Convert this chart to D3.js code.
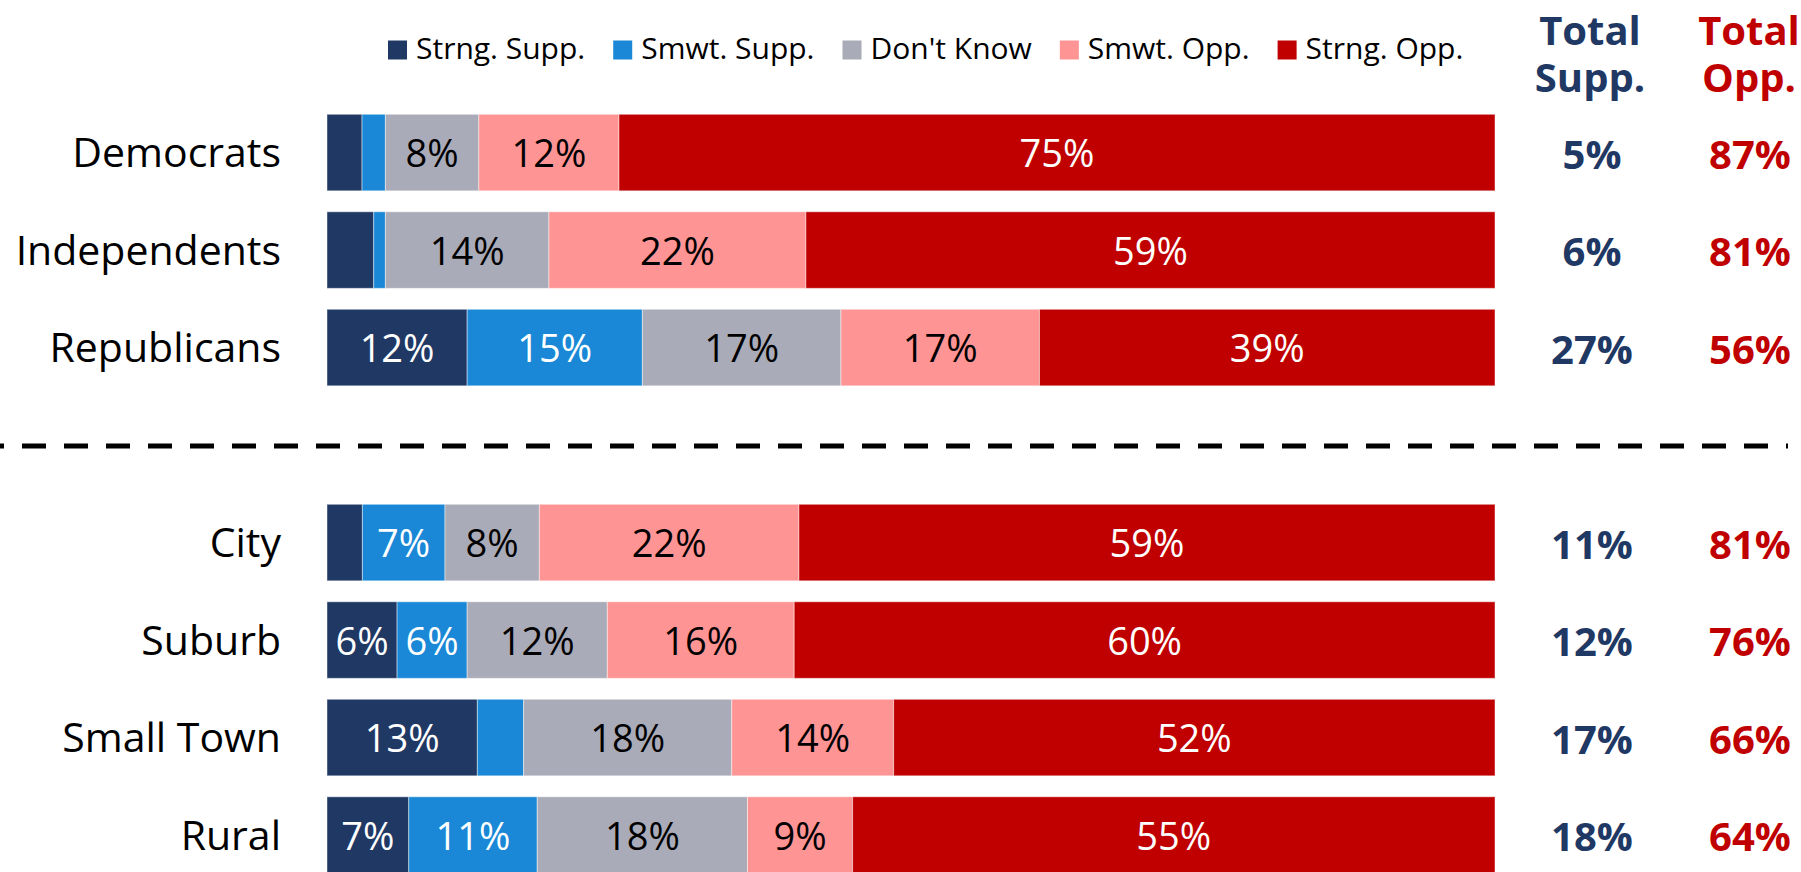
<!DOCTYPE html>
<html>
<head>
<meta charset="utf-8">
<script src="https://cdn.jsdelivr.net/npm/d3@7"></script>
<style>
  html, body { margin: 0; padding: 0; background: #fff; }
  svg { display: block; font-family: "Open Sans", sans-serif; }
</style>
</head>
<body>
<svg></svg>
<script>
var w = 1801, h = 872;

// data
var groups = ["Democrats", "Independents", "Republicans", "City", "Suburb", "Small Town", "Rural"];
var series = ["Strng. Supp.", "Smwt. Supp.", "Don't Know", "Smwt. Opp.", "Strng. Opp."];
var strngSupp = [3, 4, 12, 3, 6, 13, 7];
var smwtSupp = [2, 1, 15, 7, 6, 4, 11];
var dontKnow = [8, 14, 17, 8, 12, 18, 18];
var smwtOpp = [12, 22, 17, 22, 16, 14, 9];
var strngOpp = [75, 59, 39, 59, 60, 52, 55];
var totalSupp = [5, 6, 27, 11, 12, 17, 18];
var totalOpp = [87, 81, 56, 81, 76, 66, 64];
// which segments show their number (small ones stay blank)
var showLabel = [
    [0, 0, 1, 1, 1],
    [0, 0, 1, 1, 1],
    [1, 1, 1, 1, 1],
    [0, 1, 1, 1, 1],
    [1, 1, 1, 1, 1],
    [1, 0, 1, 1, 1],
    [1, 1, 1, 1, 1]
];

var colors = ["#1F3864", "#1A88D6", "#AAABB8", "#FF9494", "#C00000"];
var textColors = ["#fff", "#fff", "#000", "#000", "#fff"];
var cols = [strngSupp, smwtSupp, dontKnow, smwtOpp, strngOpp];

var table = groups.map(function(g, i) {
    var r = { name: g, i: i };
    series.forEach(function(s, k) { r[s] = cols[k][i]; });
    return r;
});

// 100% stacked, like the original
var stacked = d3.stack()
    .keys(series)
    .offset(d3.stackOffsetExpand)(table)

var svg = d3.select("svg")
    .attr("width", w)
    .attr("height", h)

// one empty slot between the party rows and the place rows
var slots = groups.slice(0, 3).concat(["gap"]).concat(groups.slice(3));
var y = d3.scaleBand()
    .domain(slots)
    .range([103.8, 883.8])
    .paddingInner(0.215)
    .paddingOuter(0.1075)

var x = d3.scaleLinear()
    .domain([0, 1])
    .range([327, 1495])

var bh = y.bandwidth();

var layer = svg.selectAll("g.layer")
    .data(stacked)
    .enter().append("g")
    .attr("class", "layer")
    .attr("fill", function(d, k) { return colors[k]; })

layer.selectAll("rect")
    .data(function(d) { return d; })
    .enter().append("rect")
    .attr("x", function(d) { return x(d[0]); })
    .attr("width", function(d) { return x(d[1]) - x(d[0]); })
    .attr("y", function(d) { return y(d.data.name); })
    .attr("height", bh)
    .attr("stroke", "#fff")
    .attr("stroke-opacity", 0.45)
    .attr("stroke-width", 1)

layer.selectAll("text")
    .data(function(d, k) {
        return d.filter(function(p) { return showLabel[p.data.i][k]; })
            .map(function(p) { return { p: p, k: k, key: d.key }; });
    })
    .enter().append("text")
    .attr("x", function(d) { return (x(d.p[0]) + x(d.p[1])) / 2; })
    .attr("y", function(d) { return y(d.p.data.name) + bh / 2 + 14.5; })
    .attr("text-anchor", "middle")
    .attr("font-size", 38)
    .attr("fill", function(d) { return textColors[d.k]; })
    .text(function(d) { return d.p.data[d.key] + "%"; })

var row = svg.selectAll("g.row")
    .data(table)
    .enter().append("g")
    .attr("class", "row")
    .attr("transform", function(d) { return "translate(0," + y(d.name) + ")"; })

// category names
row.append("text")
    .attr("x", 281)
    .attr("y", bh / 2 + 14.5)
    .attr("text-anchor", "end")
    .attr("font-size", 41)
    .attr("fill", "#000")
    .text(function(d) { return d.name; })

// totals
var suppX = 1592, oppX = 1750;
row.append("text")
    .attr("x", suppX)
    .attr("y", bh / 2 + 16)
    .attr("text-anchor", "middle")
    .attr("font-size", 40)
    .attr("font-weight", "bold")
    .attr("fill", "#1F3864")
    .text(function(d) { return totalSupp[d.i] + "%"; })
row.append("text")
    .attr("x", oppX)
    .attr("y", bh / 2 + 16)
    .attr("text-anchor", "middle")
    .attr("font-size", 40)
    .attr("font-weight", "bold")
    .attr("fill", "#C00000")
    .text(function(d) { return totalOpp[d.i] + "%"; })

// column headers
var headers = [["Total", "Supp.", suppX - 2, "#1F3864"], ["Total", "Opp.", oppX - 1, "#C00000"]];
headers.forEach(function(hd) {
    var t = svg.append("text")
        .attr("text-anchor", "middle")
        .attr("font-size", 40)
        .attr("font-weight", "bold")
        .attr("fill", hd[3])
    t.append("tspan").attr("x", hd[2]).attr("y", 45).text(hd[0])
    t.append("tspan").attr("x", hd[2]).attr("y", 92).text(hd[1])
});

// dashed divider between the two blocks
svg.append("line")
    .attr("x1", 0)
    .attr("x2", 1788)
    .attr("y1", 446)
    .attr("y2", 446)
    .attr("stroke", "#000")
    .attr("stroke-width", 5)
    .attr("stroke-dasharray", "24,18")
    .attr("stroke-dashoffset", 20)

// legend
var legend = svg.append("g").attr("class", "legend")
var lx = 388;
series.forEach(function(s, k) {
    legend.append("rect")
        .attr("x", lx)
        .attr("y", 40.5)
        .attr("width", 19)
        .attr("height", 19)
        .attr("fill", colors[k])
    var t = legend.append("text")
        .attr("x", lx + 28)
        .attr("y", 59)
        .attr("font-size", 30)
        .attr("fill", "#000")
        .text(s)
    lx = lx + 28 + t.node().getComputedTextLength() + 28;
});
</script>
</body>
</html>
